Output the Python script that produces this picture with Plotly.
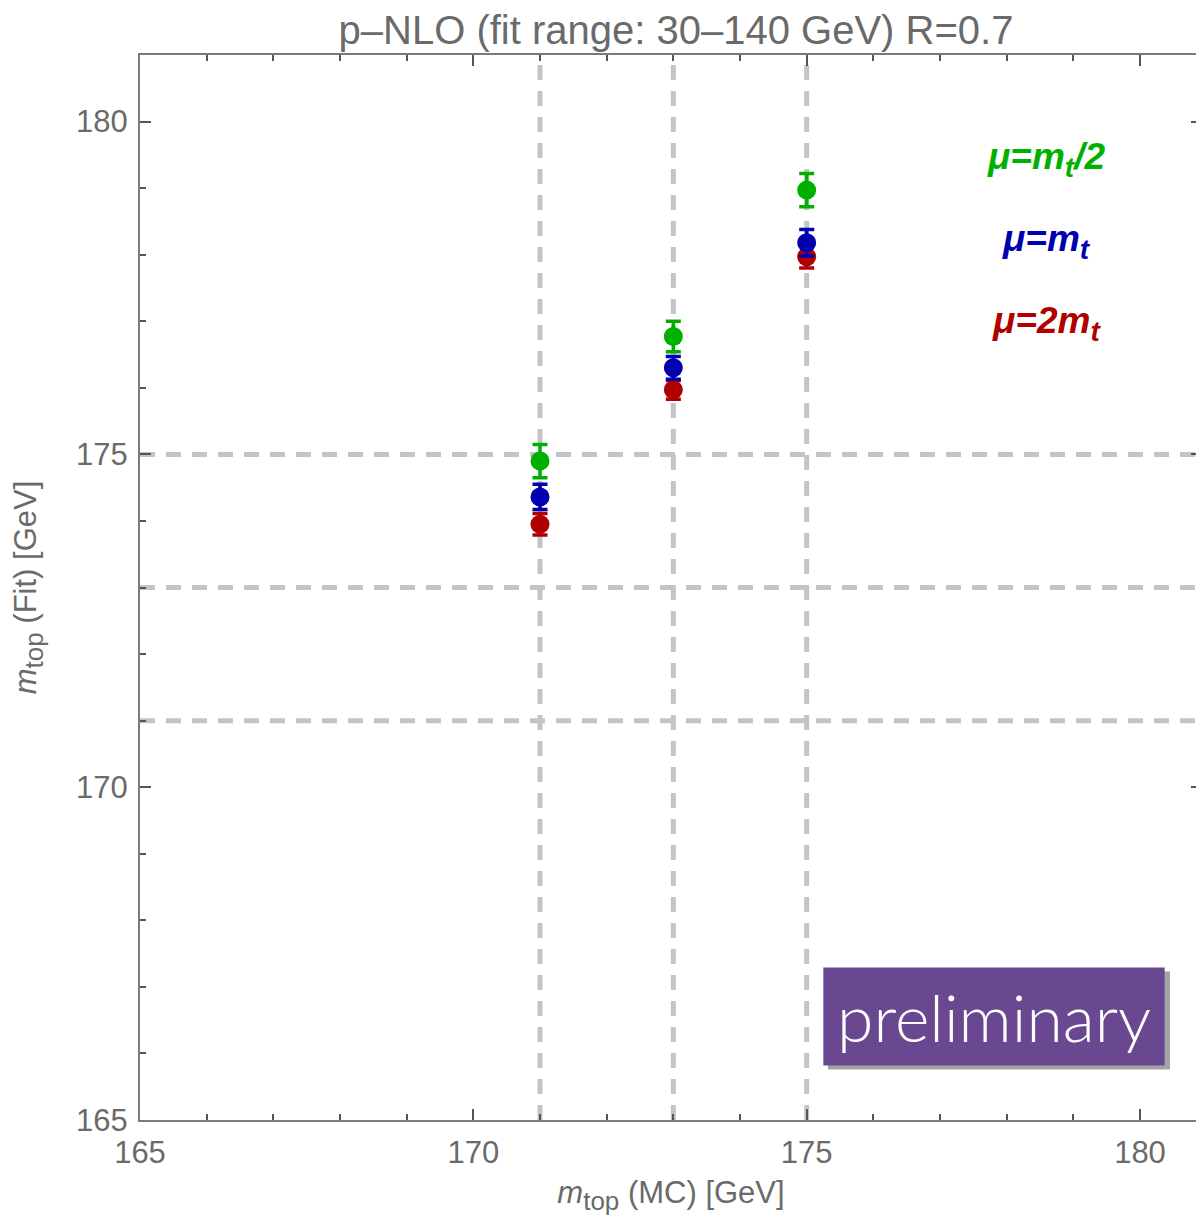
import plotly.graph_objects as go

# ---- data ----
mc_mass = [171, 173, 175]
fit_half = [174.9, 176.77, 178.97]     # mu = m_t/2 (green)
fit_one = [174.36, 176.3, 178.18]      # mu = m_t (blue)
fit_two = [173.95, 175.97, 177.97]     # mu = 2 m_t (red)
err_half = [0.25, 0.23, 0.25]
err_one = [0.19, 0.17, 0.2]
err_two = [0.16, 0.14, 0.17]
grid_x = [171, 173, 175]
grid_y = [171, 173, 175]
SUB = "<sub><span style='font-size:28px'>t</span></sub>"
series_names = ["μ=m" + SUB + "/2", "μ=m" + SUB, "μ=2m" + SUB]
series_colors = ["#00b000", "#0000b0", "#b00000"]

fig = go.Figure()

# dashed guide lines
for gx in grid_x:
    fig.add_shape(type="line", xref="x", yref="paper", x0=gx, x1=gx, y0=0, y1=1,
                  line=dict(color="#c4c4c4", width=5, dash="15px,11px"), layer="below")
for gy in grid_y:
    fig.add_shape(type="line", xref="paper", yref="y", x0=0, x1=1, y0=gy, y1=gy,
                  line=dict(color="#c4c4c4", width=5, dash="15px,11px"), layer="below")

for ys, es, col in [(fit_two, err_two, series_colors[2]),
                    (fit_one, err_one, series_colors[1]),
                    (fit_half, err_half, series_colors[0])]:
    fig.add_trace(go.Scatter(
        x=mc_mass, y=ys, mode="markers",
        marker=dict(color=col, size=19, line=dict(width=0)),
        error_y=dict(type="data", array=es, color=col, thickness=3.5, width=7.5),
        showlegend=False))

# legend-like labels
label_y = [179.43, 178.2, 176.97]
for txt, col, ly in zip(series_names, series_colors, label_y):
    fig.add_annotation(x=178.59, y=ly, xref="x", yref="y",
                       text="<b><i>" + txt + "</i></b>", showarrow=False,
                       font=dict(family="Liberation Sans, Arial", size=37, color=col))

# preliminary box with shadow
fig.add_shape(type="rect", xref="x", yref="y", x0=175.32, x1=180.45, y0=165.76, y1=167.23,
              fillcolor="rgba(90,90,90,0.55)", line=dict(width=0), layer="above")
fig.add_shape(type="rect", xref="x", yref="y", x0=175.25, x1=180.37, y0=165.82, y1=167.29,
              fillcolor="#6a4891", line=dict(width=0), layer="above")
fig.add_annotation(x=177.81, y=166.55, xref="x", yref="y", text="preliminary",
                   showarrow=False,
                   font=dict(family="Lato, Open Sans, sans-serif", size=66, weight=300,
                             color="white"))

axis_common = dict(
    showgrid=False, zeroline=False, showline=True, linecolor="#7a7a7a", linewidth=2,
    mirror="allticks", ticks="inside", ticklen=11, tickwidth=1.5, tickcolor="#555",
    dtick=5, tickfont=dict(family="Liberation Sans, Arial", size=31, color="#6a6a6a"),
    minor=dict(ticks="inside", ticklen=6, tickwidth=1.5, tickcolor="#555", dtick=1),
)

TSUB = "<sub><span style='font-size:26px'>top</span></sub>"
fig.update_layout(
    width=1196, height=1208,
    margin=dict(l=132, r=0, t=47, b=96),
    paper_bgcolor="white", plot_bgcolor="white",
    title=dict(text="p–NLO (fit range: 30–140 GeV) R=0.7", x=0.5585, xanchor="center",
               y=1 - 22 / 1208, yanchor="middle",
               font=dict(family="Liberation Sans, Arial", size=40, color="#6a6a6a")),
    xaxis=dict(range=[165, 180.93], tick0=165, ticklabelstandoff=4,
               title=dict(text="<i>m</i>" + TSUB + " (MC) [GeV]", standoff=16,
                          font=dict(family="Liberation Sans, Arial", size=31, color="#6a6a6a")),
               **axis_common),
    yaxis=dict(range=[165, 181], tick0=165, ticklabelstandoff=4,
               title=dict(text="<i>m</i>" + TSUB + " (Fit) [GeV]", standoff=30,
                          font=dict(family="Liberation Sans, Arial", size=31, color="#6a6a6a")),
               **axis_common),
)

fig.write_html("out.html")
